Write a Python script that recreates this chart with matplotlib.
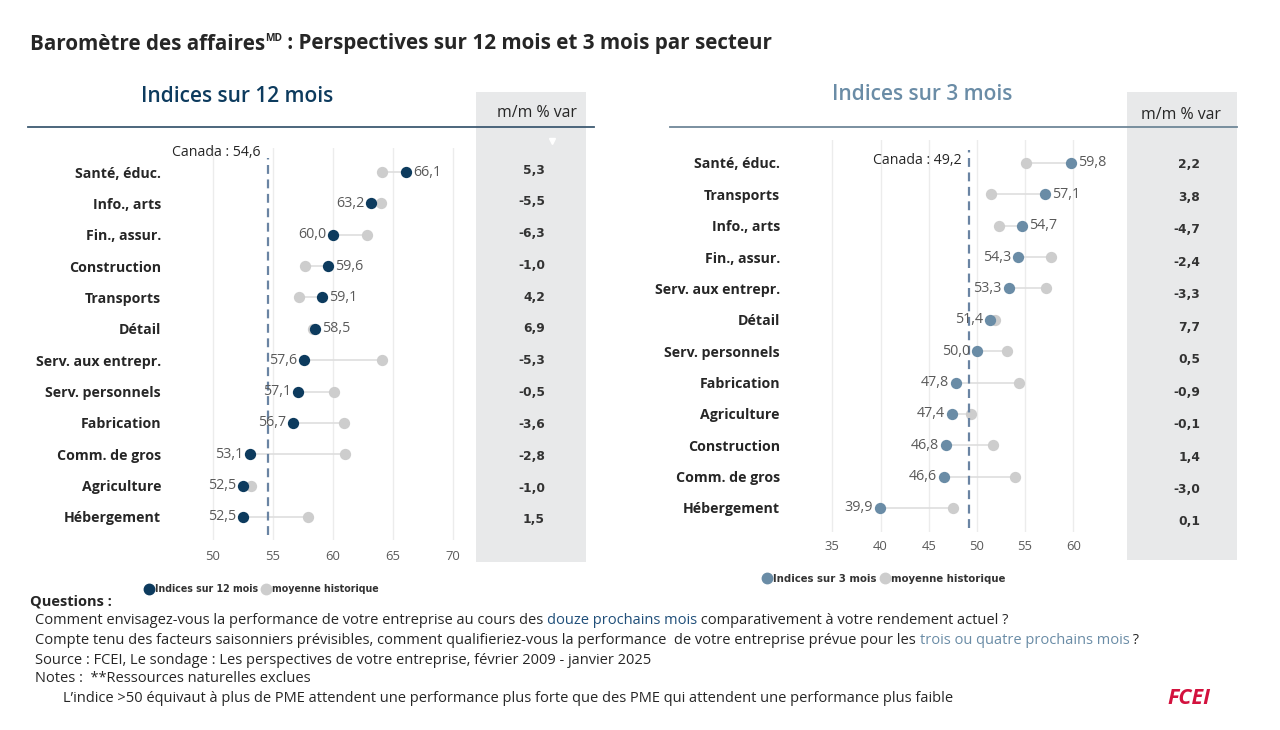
import matplotlib
matplotlib.use('Agg')
import matplotlib.pyplot as plt
from matplotlib.lines import Line2D
from matplotlib.patches import Rectangle
from matplotlib.text import Annotation
import matplotlib.transforms as mtrans

W, H = 1280, 730

# ---------------- DATA ----------------
sectors_12 = ['Santé, éduc.', 'Info., arts', 'Fin., assur.', 'Construction', 'Transports', 'Détail',
              'Serv. aux entrepr.', 'Serv. personnels', 'Fabrication', 'Comm. de gros', 'Agriculture',
              'Hébergement']
idx_12 = [66.1, 63.2, 60.0, 59.6, 59.1, 58.5, 57.6, 57.1, 56.7, 53.1, 52.5, 52.5]
hist_12 = [64.1, 64.0, 62.8, 57.7, 57.2, 58.3, 64.1, 60.1, 60.9, 61.0, 53.2, 57.9]
mom_12 = [5.3, -5.5, -6.3, -1.0, 4.2, 6.9, -5.3, -0.5, -3.6, -2.8, -1.0, 1.5]
canada_12 = 54.6
ticks_12 = [50, 55, 60, 65, 70]

sectors_3 = ['Santé, éduc.', 'Transports', 'Info., arts', 'Fin., assur.', 'Serv. aux entrepr.', 'Détail',
             'Serv. personnels', 'Fabrication', 'Agriculture', 'Construction', 'Comm. de gros',
             'Hébergement']
idx_3 = [59.8, 57.1, 54.7, 54.3, 53.3, 51.4, 50.0, 47.8, 47.4, 46.8, 46.6, 39.9]
hist_3 = [55.1, 51.5, 52.3, 57.7, 57.2, 51.9, 53.1, 54.4, 49.4, 51.7, 54.0, 47.5]
mom_3 = [2.2, 3.8, -4.7, -2.4, -3.3, 7.7, 0.5, -0.9, -0.1, 1.4, -3.0, 0.1]
canada_3 = 49.2
ticks_3 = [35, 40, 45, 50, 55, 60]

# ---------------- STYLE ----------------
plt.rcParams['font.family'] = ['Open Sans', 'DejaVu Sans']
WIDE = ['DejaVu Sans']
NAVY = '#0d3b5e'
STEEL = '#6a8ca6'
HIST = '#cdcdcd'
CONN = '#dedede'
GRID = '#ececec'
TXT = '#262626'
VAL = '#5a5a5a'
PANEL = '#e8e9ea'

fig = plt.figure(figsize=(W / 100, H / 100), dpi=100)
fig.patch.set_facecolor('white')
renderer = fig.canvas.get_renderer()


def fx(x):
    return x / W


def fy(y):
    return 1 - y / H


def size_for(s, target_px, **kw):
    t = fig.text(0, 0, s, fontsize=10, **kw)
    w = t.get_window_extent(renderer).width
    t.remove()
    return 10 * target_px / w


def fmt(v):
    return f'{v:.1f}'.replace('.', ',')


# grey m/m panels
for (x0, y0, x1, y1) in [(476, 92, 586, 562), (1127, 92, 1237, 560)]:
    fig.patches.append(Rectangle((fx(x0), fy(y1)), (x1 - x0) / W, (y1 - y0) / H,
                                 transform=fig.transFigure, facecolor=PANEL, edgecolor='none', zorder=0))

# header lines
fig.add_artist(Line2D([fx(28), fx(594)], [fy(127), fy(127)], color='#3e5a72', lw=1.3))
fig.add_artist(Line2D([fx(670), fx(1237)], [fy(127), fy(127)], color='#6f8798', lw=1.3))

cat_size = size_for('Serv. aux entrepr.', 125, fontweight='bold')
val_size = size_for('66,1', 28)
tick_size = size_for('50', 15)
can_size = size_for('Canada : 54,6', 89)
mom_size = size_for('-5,5', 27, fontweight='bold', family=WIDE)
hdr_size = size_for('m/m % var', 80)


def draw_panel(box, sectors, idx, hist, canada, ticks, px0, ppu, r0, sp, color,
               pad_px, tick_pad_px, line_top, line_bot, can_y):
    x0, y0, x1, y1 = box
    ax = fig.add_axes([fx(x0), fy(y1), (x1 - x0) / W, (y1 - y0) / H])
    ax.set_facecolor('none')
    xl = (ticks[0] + (x0 - px0) / ppu, ticks[0] + (x1 - px0) / ppu)
    ax.set_xlim(*xl)
    ax.set_ylim((y1 - r0) / sp, (y0 - r0) / sp)
    rows = list(range(len(sectors)))
    for t in ticks:
        ax.axvline(t, color=GRID, lw=1, zorder=0)
    for r, v, h in zip(rows, idx, hist):
        ax.plot([v, h], [r, r], color=CONN, lw=1.2, zorder=1, solid_capstyle='butt')
    ax.scatter(hist, rows, s=66, color=HIST, zorder=2, linewidths=0)
    ax.scatter(idx, rows, s=66, color=color, zorder=3, linewidths=0)
    for r, v, h in zip(rows, idx, hist):
        if v >= h:
            ax.annotate(fmt(v), (v, r), xytext=(5, 0), textcoords='offset points',
                        ha='left', va='center', fontsize=val_size, color=VAL, zorder=4)
        else:
            ax.annotate(fmt(v), (v, r), xytext=(-5, 0), textcoords='offset points',
                        ha='right', va='center', fontsize=val_size, color=VAL, zorder=4)
    ymin = (y1 - line_bot) / (y1 - y0)
    ymax = (y1 - line_top) / (y1 - y0)
    ax.axvline(canada, ymin=ymin, ymax=ymax, color='#6a84a3', lw=1.6, dashes=(4, 2.5), zorder=2)
    ax.text(canada, (can_y - r0) / sp, f'Canada : {fmt(canada)}', ha='right', va='center',
            fontsize=can_size, color=TXT,
            transform=ax.transData + mtrans.ScaledTranslation(-8 / 100, 0, fig.dpi_scale_trans))
    ax.set_xticks(ticks)
    ax.set_xticklabels([str(t) for t in ticks], fontsize=tick_size, color=VAL)
    ax.set_yticks(rows)
    ax.set_yticklabels(sectors, fontsize=cat_size, fontweight='bold', color=TXT)
    ax.tick_params(axis='y', length=0, pad=pad_px * 0.72)
    ax.tick_params(axis='x', length=0, pad=tick_pad_px * 0.72)
    for s in ax.spines.values():
        s.set_visible(False)
    return ax


ax12 = draw_panel((171, 148, 465, 540), sectors_12, idx_12, hist_12, canada_12, ticks_12,
                  213, 12.0, 172, 31.36, NAVY, 10, 10, 158, 535, 152)
ax3 = draw_panel((799, 140, 1102, 532), sectors_3, idx_3, hist_3, canada_3, ticks_3,
                 832.3, 9.64, 163, 31.36, STEEL, 19, 8, 150, 528, 160)

# m/m values
for i, v in enumerate(mom_12):
    fig.text(fx(545), fy(170 + i * 31.8), fmt(v), ha='right', va='center', fontsize=mom_size,
             fontweight='bold', color='#333333', family=WIDE)
for i, v in enumerate(mom_3):
    fig.text(fx(1200), fy(165 + i * 32.45), fmt(v), ha='right', va='center', fontsize=mom_size,
             fontweight='bold', color='#333333', family=WIDE)
fig.text(fx(537), fy(113), 'm/m % var', ha='center', va='center', fontsize=hdr_size, color=TXT)
fig.text(fx(1181), fy(115), 'm/m % var', ha='center', va='center', fontsize=hdr_size, color=TXT)
fig.add_artist(Line2D([fx(552)], [fy(141)], marker='v', color='white', markersize=4, ls=''))

# panel titles
fig.text(fx(237), fy(97), 'Indices sur 12 mois', ha='center', va='center',
         fontsize=size_for('Indices sur 12 mois', 192, fontweight='semibold'), fontweight='semibold', color=NAVY)
fig.text(fx(922), fy(95), 'Indices sur 3 mois', ha='center', va='center',
         fontsize=size_for('Indices sur 3 mois', 180, fontweight='semibold'), fontweight='semibold', color=STEEL)

# main title with superscript
tsz = size_for('Baromètre des affaires', 236, fontweight='bold')
t1 = fig.text(fx(30), fy(44), 'Baromètre des affaires', ha='left', va='center', fontsize=tsz,
              fontweight='bold', color=TXT)
t2 = fig.add_artist(Annotation('MD', xy=(1.0, 0.5), xycoords=t1, ha='left', va='bottom',
                               fontsize=tsz * 0.5, fontweight='bold', color=TXT))
fig.add_artist(Annotation(' : Perspectives sur 12 mois et 3 mois par secteur', xy=(1.0, 0.0),
                          xycoords=(t2, t1), ha='left', va='bottom', fontsize=tsz,
                          fontweight='bold', color=TXT))


# legends
def legend_at(cx, cy, color, label):
    return fig.legend(handles=[Line2D([], [], marker='o', ls='', color=color, markersize=7.5),
                               Line2D([], [], marker='o', ls='', color=HIST, markersize=7.5)],
                      labels=[label, 'moyenne historique'], loc='center', bbox_to_anchor=(fx(cx), fy(cy)),
                      ncol=2, frameon=False, handletextpad=0.15, columnspacing=0.4, handlelength=0.9,
                      prop={'size': size_for(label, 104, fontweight='bold', family=WIDE),
                            'weight': 'bold', 'family': WIDE},
                      labelcolor='#333333')


legend_at(262, 589, NAVY, 'Indices sur 12 mois')
legend_at(884, 579, STEEL, 'Indices sur 3 mois')

# footer
line1 = ['Comment envisagez-vous la performance de votre entreprise au cours des ', 'douze prochains mois',
         ' comparativement à votre rendement actuel ?']
line2 = ['Compte tenu des facteurs saisonniers prévisibles, comment qualifieriez-vous la performance  de votre entreprise prévue pour les ',
         'trois ou quatre prochains mois', ' ?']
fsz = size_for(''.join(line1), 968)


def rich(x, y, pieces, colors):
    prev = fig.text(fx(x), fy(y), pieces[0], ha='left', va='center', fontsize=fsz, color=colors[0])
    for p, c in zip(pieces[1:], colors[1:]):
        prev = fig.add_artist(Annotation(p, xy=(1.0, 0.0), xycoords=prev, ha='left', va='bottom',
                                         fontsize=fsz, color=c))


fig.text(fx(30), fy(602), 'Questions :', ha='left', va='center', fontsize=fsz, fontweight='bold', color=TXT)
rich(35, 621, line1, [TXT, '#1f4e79', TXT])
rich(35, 640, line2, [TXT, STEEL, TXT])
fig.text(fx(35), fy(660), 'Source : FCEI, Le sondage : Les perspectives de votre entreprise, février 2009 - janvier 2025',
         ha='left', va='center', fontsize=fsz, color=TXT)
fig.text(fx(35), fy(679), 'Notes :  **Ressources naturelles exclues', ha='left', va='center', fontsize=fsz, color=TXT)
fig.text(fx(63), fy(698), 'L’indice >50 équivaut à plus de PME attendent une performance plus forte que des PME qui attendent une performance plus faible',
         ha='left', va='center', fontsize=fsz, color=TXT)

fig.text(fx(1167), fy(698), 'FCEI', ha='left', va='center',
         fontsize=size_for('FCEI', 43, fontweight='bold', fontstyle='italic'),
         fontweight='bold', fontstyle='italic', color='#d3123e')

fig.savefig('out.png', dpi=100)
